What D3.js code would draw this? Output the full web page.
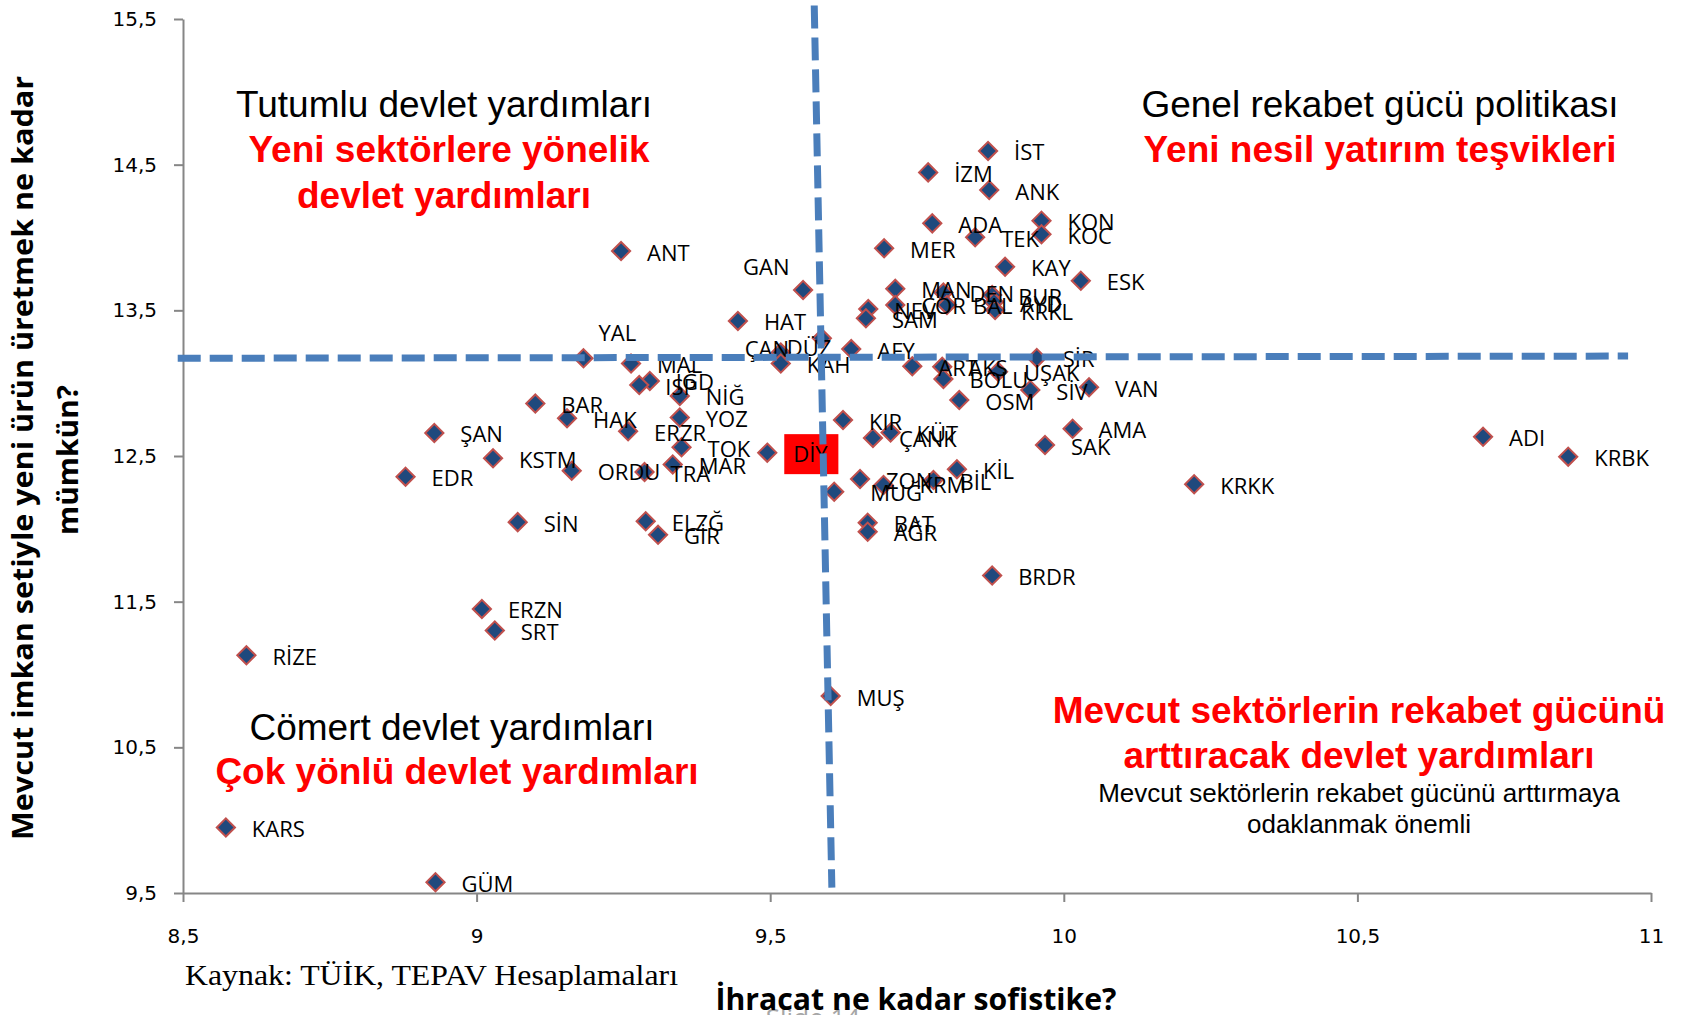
<!DOCTYPE html>
<html><head><meta charset="utf-8">
<script src="https://cdn.jsdelivr.net/npm/d3@7"></script>
<style>html,body{margin:0;padding:0;background:#fff;overflow:hidden}</style>
</head><body><svg id="chart" width="1687" height="1015"></svg>
<script>
// ---- data ----
const provinces = ["İST","İZM","ANK","ADA","TEK","KON","KOC","MER","KAY","ESK",
  "ANT","GAN","HAT","MAN","ÇOR","NEV","SAM","DEN","BAL","BUR",
  "AYD","KRKL","YAL","MAL","ÇAN","KAH","DÜZ","AFY","ART","AKS",
  "BOLU","UŞAK","SİR","SİV","VAN","OSM","IĞD","ISP","NİĞ","YOZ",
  "BAR","HAK","ERZR","ŞAN","TOK","KSTM","DİY","MAR","TRA","ORDU",
  "EDR","KIR","KÜT","ÇANK","AMA","SAK","KİL","ZON","KRM","BİL",
  "MUĞ","BAT","AĞR","SİN","ELZĞ","GİR","KRKK","ADI","KRBK","BRDR",
  "MUŞ","ERZN","SRT","RİZE","KARS","GÜM"];
const exportSophistication = [9.871,9.769,9.873,9.776,9.849,9.962,9.962,9.694,9.900,10.029,
  9.246,9.556,9.445,9.713,9.713,9.667,9.663,9.795,9.801,9.878,
  9.881,9.883,9.182,9.263,9.518,9.518,9.588,9.638,9.742,9.793,
  9.795,9.888,9.954,9.943,10.043,9.822,9.295,9.277,9.346,9.346,
  9.100,9.154,9.258,8.928,9.349,9.028,9.495,9.334,9.286,9.162,
  8.879,9.624,9.705,9.675,10.015,9.968,9.818,9.653,9.693,9.778,
  9.609,9.666,9.666,9.070,9.288,9.309,10.222,10.714,10.859,9.878,
  9.603,9.009,9.031,8.608,8.573,8.930];
const newProductPotential = [14.594,14.447,14.326,14.097,14.001,14.115,14.022,13.926,13.799,13.703,
  13.907,13.640,13.427,13.648,13.537,13.509,13.445,13.622,13.537,13.605,
  13.557,13.502,13.171,13.135,13.210,13.135,13.308,13.234,13.116,13.113,
  13.029,13.079,13.173,12.953,12.972,12.884,13.015,12.987,12.912,12.764,
  12.860,12.759,12.670,12.658,12.560,12.484,12.523,12.442,12.390,12.399,
  12.358,12.747,12.661,12.624,12.687,12.575,12.409,12.342,12.301,12.335,
  12.255,12.042,11.980,12.046,12.052,11.959,12.306,12.632,12.495,11.679,
  10.852,11.450,11.302,11.132,9.950,9.574];
const xTicks = [8.5, 9, 9.5, 10, 10.5, 11];
const yTicks = [9.5, 10.5, 11.5, 12.5, 13.5, 14.5, 15.5];
const highlighted = "DİY";
// dashed quadrant dividers (data coordinates)
const hDivider = [[8.491, 13.171], [10.961, 13.186]];
const vDivider = [[9.575, 15.593], [9.605, 9.537]];

// ---- layout ----
const W = 1687, H = 1015;
const svg = d3.select("#chart");
svg.append("rect").attr("width", W).attr("height", H).attr("fill", "#fff");
const x = d3.scaleLinear().domain([8.5, 11]).range([183, 1651]);
const y = d3.scaleLinear().domain([9.5, 15.5]).range([893, 19]);
const fmt = d => String(d).replace(".", ",");
const axisColor = "#868686";
const tickFont = "'DejaVu Sans', Verdana, sans-serif";

// label position tweaks (pixels) where the original labels were moved
const labelShift = {"GAN":[-60,-23],"YAL":[15,-25],"ÇAN":[-36,-4],"DÜZ":[-35,10],"MUĞ":[36,1],"KRM":[36,0]};

// quadrant texts
const qt = svg.append("g").attr("font-family", "'Liberation Sans', Arial, sans-serif").attr("text-anchor", "middle");
function qtext(t, cx, by, size, color, bold) {
  qt.append("text").attr("x", cx).attr("y", by).attr("font-size", size)
    .attr("fill", color).attr("font-weight", bold ? "bold" : "normal").text(t);
}
qtext("Tutumlu devlet yardımları", 444, 117, 37, "#000", false);
qtext("Yeni sektörlere yönelik", 449, 161.5, 37, "#ff0000", true);
qtext("devlet yardımları", 444, 207.5, 37, "#ff0000", true);
qtext("Genel rekabet gücü politikası", 1380, 117, 37, "#000", false);
qtext("Yeni nesil yatırım teşvikleri", 1380, 161.5, 37, "#ff0000", true);
qtext("Cömert devlet yardımları", 452, 740, 37, "#000", false);
qtext("Çok yönlü devlet yardımları", 457, 784, 37, "#ff0000", true);
qtext("Mevcut sektörlerin rekabet gücünü", 1359, 723, 37, "#ff0000", true);
qtext("arttıracak devlet yardımları", 1359, 768, 37, "#ff0000", true);
qtext("Mevcut sektörlerin rekabet gücünü arttırmaya", 1359, 802, 26, "#000", false);
qtext("odaklanmak önemli", 1359, 833, 26, "#000", false);

// axes
const gx = svg.append("g").attr("transform", "translate(0,893)")
  .call(d3.axisBottom(x).tickValues(xTicks).tickSize(9).tickSizeOuter(0).tickPadding(27).tickFormat(fmt));
const gy = svg.append("g").attr("transform", "translate(183,0)")
  .call(d3.axisLeft(y).tickValues(yTicks).tickSize(9).tickSizeOuter(0).tickPadding(17).tickFormat(fmt));
[gx, gy].forEach(g => {
  g.select(".domain").attr("stroke", axisColor).attr("stroke-width", 2);
  g.selectAll(".tick line").attr("stroke", axisColor).attr("stroke-width", 2);
  g.selectAll(".tick text").attr("font-family", tickFont).attr("font-size", 20).attr("fill", "#000");
});

// points
const idx = d3.range(provinces.length);
const r = 9.1;
const diamond = `M0,${-r}L${r},0L0,${r}L${-r},0Z`;
svg.append("g").selectAll("path").data(idx).join("path")
  .attr("d", diamond)
  .attr("transform", i => `translate(${x(exportSophistication[i])},${y(newProductPotential[i])})`)
  .attr("fill", "#1f497d").attr("stroke", "#c0504d").attr("stroke-width", 2);

// labels
const lg = svg.append("g").attr("font-family", "'Open Sans', sans-serif").attr("font-size", 22).attr("fill", "#000");
idx.forEach(i => {
  const name = provinces[i];
  const s = labelShift[name] || [26, 1.5];
  const lx = x(exportSophistication[i]) + s[0];
  const ly = y(newProductPotential[i]) + s[1];
  if (name === highlighted) {
    const box = lg.append("rect").attr("fill", "#ff0000");
    const t = lg.append("text").attr("x", lx).attr("y", ly + 8).text(name);
    const bb = t.node().getBBox();
    box.attr("x", bb.x - 9).attr("y", ly - 20).attr("width", bb.width + 19).attr("height", 40);
  } else {
    lg.append("text").attr("x", lx).attr("y", ly + 8).text(name);
  }
});

// dashed dividers
const line = d3.line().x(d => x(d[0])).y(d => y(d[1]));
[hDivider, vDivider].forEach(p => {
  svg.append("path").attr("d", line(p)).attr("fill", "none")
    .attr("stroke", "#4a7ebb").attr("stroke-width", 7).attr("stroke-dasharray", "23,9");
});

// axis titles and notes
svg.append("text").attr("x", 813).attr("y", 1027).attr("text-anchor", "middle")
  .attr("font-family", "'Open Sans', sans-serif").attr("font-size", 26).attr("fill", "#a6a6a6").text("Slide 14");
svg.append("text").attr("x", 185).attr("y", 985)
  .attr("font-family", "'Liberation Serif', 'Times New Roman', serif").attr("font-size", 30)
  .attr("textLength", 493).attr("lengthAdjust", "spacingAndGlyphs")
  .text("Kaynak: TÜİK, TEPAV Hesaplamaları");
svg.append("text").attr("x", 916).attr("y", 1010).attr("text-anchor", "middle")
  .attr("font-family", "'Open Sans', sans-serif").attr("font-weight", "bold").attr("font-size", 30)
  .attr("textLength", 401).attr("lengthAdjust", "spacingAndGlyphs")
  .text("İhracat ne kadar sofistike?");
const yt = svg.append("g").attr("font-family", "'Open Sans', sans-serif").attr("font-weight", "bold")
  .attr("font-size", 28).attr("text-anchor", "middle");
yt.append("text").attr("transform", "translate(33,458) rotate(-90)")
  .attr("textLength", 764).attr("lengthAdjust", "spacingAndGlyphs")
  .text("Mevcut imkan setiyle yeni ürün üretmek ne kadar");
yt.append("text").attr("transform", "translate(78,460) rotate(-90)")
  .attr("textLength", 150).attr("lengthAdjust", "spacingAndGlyphs")
  .text("mümkün?");
</script></body></html>
